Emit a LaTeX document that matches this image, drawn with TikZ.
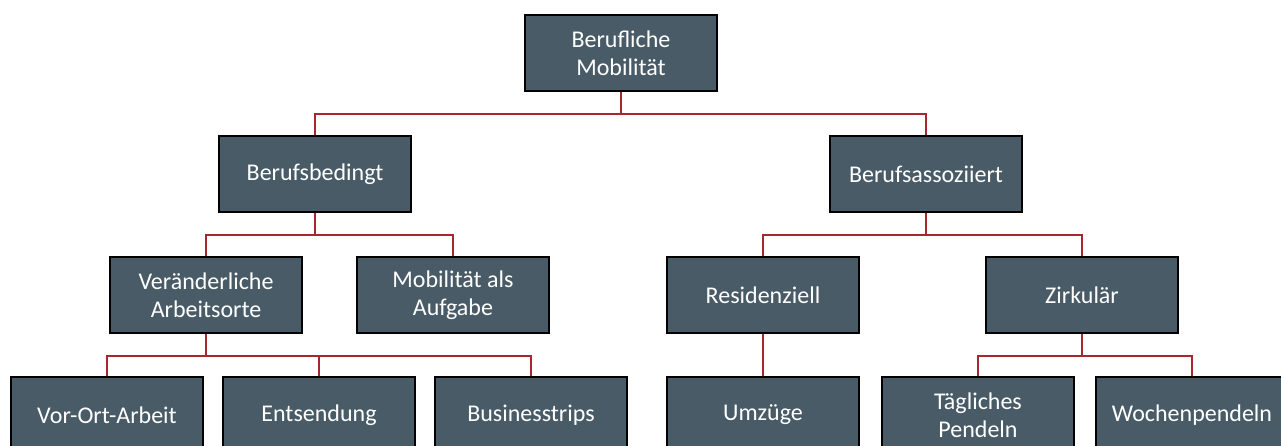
\documentclass[tikz,border=0pt]{standalone}
\usepackage{fontspec}
\setmainfont{Carlito}
\definecolor{boxfill}{HTML}{485B66}
\definecolor{linkred}{HTML}{A8262E}

\begin{document}
\begin{tikzpicture}[x=1pt, y=-1pt,
    box/.style={draw=black, line width=1.6pt, fill=boxfill, text=white,
      minimum width=192pt, minimum height=76pt, align=center, inner sep=2pt,
      font=\fontsize{24}{28}\selectfont},
    link/.style={draw=linkred, line width=2pt}]
  \useasboundingbox (0,0) rectangle (1281,446);
  % levels of the tree:
  \node [box] (root) at (621,53) {Berufliche\\Mobilität};
  \node [box] (bed) at (315,174) {Berufsbedingt};
  \node [box] (ass) at (926,174) {Berufsassoziiert};
  \foreach \x/\name/\txt in {206/var/Veränderliche\\Arbeitsorte, 453/auf/Mobilität als\\Aufgabe,
      763/res/Residenziell, 1082/zir/Zirkulär}
    \node [box] (\name) at (\x,295) {\txt};
  \foreach \x/\name/\txt in {107/vor/Vor-Ort-Arbeit, 319/ent/Entsendung, 531/bus/Businesstrips,
      763/umz/Umzüge, 978/tag/Tägliches\\Pendeln, 1192/woc/Wochenpendeln}
    \node [box] (\name) at (\x,415) {\txt};
  % connectors:
  \foreach \p/\c in {root/bed, root/ass, bed/var, bed/auf, ass/res, ass/zir,
      var/vor, var/ent, var/bus, res/umz, zir/tag, zir/woc}
    \draw [link] (\p.south) -- ++(0,22.5) -| (\c.north);
\end{tikzpicture}
\end{document}
